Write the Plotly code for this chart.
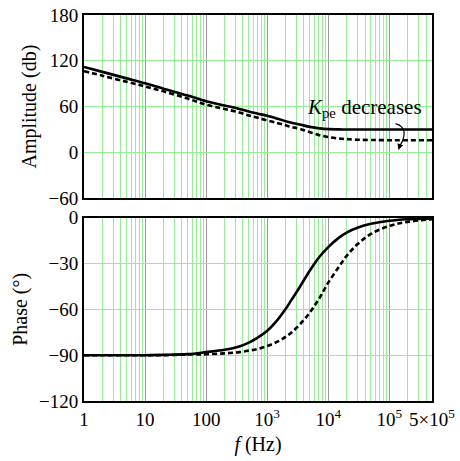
import math
import plotly.graph_objects as go
from plotly.subplots import make_subplots

# ---- data ----
freq = [1, 2, 5, 10, 20, 50, 100, 200, 350, 500, 700, 1000, 1500, 2000, 2500, 3400,
        5000, 7200, 10000, 15000, 20000, 30000, 50000, 100000, 200000, 500000]
amp_solid = [112, 105.5, 97, 90.5, 83.5, 74.5, 67, 61.5, 57, 53.5, 50.8, 48, 44, 41,
             39, 36.6, 33.5, 31.5, 30.5, 30.2, 30.1, 30, 30, 30, 30, 30]
amp_dashed = [106.5, 100.5, 92.5, 86.5, 80, 70.5, 62.5, 57, 52.3, 48.5, 45.3, 42, 38.3,
              35.5, 33.4, 31, 26.5, 22.6, 20.2, 18.2, 17.4, 16.7, 16.3, 16, 16, 16]
phase_solid = [-90, -90, -90, -90, -89.8, -89.3, -88, -86.5, -84.3, -81.8, -78.5, -74,
               -66.5, -59.8, -53.8, -45.5, -34.5, -25.5, -19.2, -13, -9.7, -6.6, -4,
               -2, -1, -0.4]
phase_dashed = [-90, -90, -90, -90, -90, -89.6, -89.4, -88.8, -88, -87, -86, -84,
                -81, -78, -75.2, -70, -62, -52.5, -42.5, -32, -25, -17.4, -10.6,
                -5.4, -2.7, -1]

x_tickvals = [1, 10, 100, 1000, 10000, 100000, 500000]
x_ticktext = ["1", "10", "100", "10<sup>3</sup>", "10<sup>4</sup>", "10<sup>5</sup>",
              "5×10<sup>5</sup>"]
amp_ticks = [-60, 0, 60, 120, 180]
phase_ticks = [-120, -90, -60, -30, 0]
minor_vals = [m * 10 ** d for d in range(0, 6) for m in range(2, 10) if m * 10 ** d < 500000]

FONT = "Liberation Serif, Times New Roman, serif"
GREEN = "#94ee94"
GRAY = "#9a9a9a"

fig = make_subplots(rows=2, cols=1, shared_xaxes=True, vertical_spacing=20 / 396)

solid = dict(color="black", width=2.6)
dashed = dict(color="black", width=2.6, dash="5px,3px")

fig.add_trace(go.Scatter(x=freq, y=amp_dashed, mode="lines", line=dashed, line_shape="spline",
                         showlegend=False), row=1, col=1)
fig.add_trace(go.Scatter(x=freq, y=amp_solid, mode="lines", line=solid, line_shape="spline",
                         showlegend=False), row=1, col=1)
fig.add_trace(go.Scatter(x=freq, y=phase_dashed, mode="lines", line=dashed, line_shape="spline",
                         showlegend=False), row=2, col=1)
fig.add_trace(go.Scatter(x=freq, y=phase_solid, mode="lines", line=solid, line_shape="spline",
                         showlegend=False), row=2, col=1)

xcommon = dict(type="log", range=[0, math.log10(500000)], tickmode="array",
               tickvals=x_tickvals, ticktext=x_ticktext, showgrid=True, gridcolor=GRAY,
               gridwidth=1, showline=True, linecolor="black", linewidth=2, mirror=True,
               ticks="", zeroline=False,
               minor=dict(tickmode="array", tickvals=minor_vals, showgrid=True,
                          gridcolor=GREEN, gridwidth=1, ticks=""),
               tickfont=dict(family=FONT, size=19, color="black"))
fig.update_xaxes(**xcommon)
fig.update_xaxes(showticklabels=False, row=1, col=1)
fig.update_xaxes(title=dict(text="<i>f</i> (Hz)", font=dict(family=FONT, size=20, color="black"),
                            standoff=8), row=2, col=1)

ycommon = dict(showgrid=True, gridcolor=GREEN, gridwidth=1, showline=True, linecolor="black",
               linewidth=2, mirror=True, ticks="", zeroline=False, tickmode="array",
               tickfont=dict(family=FONT, size=19, color="black"))
fig.update_yaxes(**ycommon)
fig.update_yaxes(range=[-60, 180], tickvals=amp_ticks,
                 title=dict(text="Amplitude (db)", font=dict(family=FONT, size=20, color="black"),
                            standoff=6), row=1, col=1)
fig.update_yaxes(range=[-120, 0], tickvals=phase_ticks,
                 title=dict(text="Phase (°)", font=dict(family=FONT, size=20, color="black"),
                            standoff=6), row=2, col=1)

# annotation text + curved arrow (paper coords: plot area is x 84..433, y 5..401 px)
def px2paper(px, py):
    return (px - 84) / 349, (401 - py) / 396

tx, ty = px2paper(365, 100)
fig.add_annotation(x=tx, y=ty, xref="paper", yref="paper", showarrow=False,
                   text="<i>K</i><sub>pe</sub> decreases",
                   font=dict(family=FONT, size=21, color="black"), xanchor="center",
                   yanchor="middle")
p0 = px2paper(396.5, 116.5)
pc = px2paper(411, 121)
p1 = px2paper(401, 139)
fig.add_shape(type="path", xref="paper", yref="paper",
              path=f"M {p0[0]},{p0[1]} Q {pc[0]},{pc[1]} {p1[0]},{p1[1]}",
              line=dict(color="black", width=1.2))
hx, hy = px2paper(399.3, 143.5)
fig.add_annotation(x=hx, y=hy, xref="paper", yref="paper", showarrow=True, text="",
                   ax=2, ay=-6, arrowhead=2, arrowsize=1, arrowwidth=1.2,
                   arrowcolor="black", standoff=0)

fig.update_layout(width=460, height=461, margin=dict(l=84, r=27, t=5, b=60),
                  plot_bgcolor="white", paper_bgcolor="white",
                  font=dict(family=FONT, color="black"))

fig.write_html("out.html")
